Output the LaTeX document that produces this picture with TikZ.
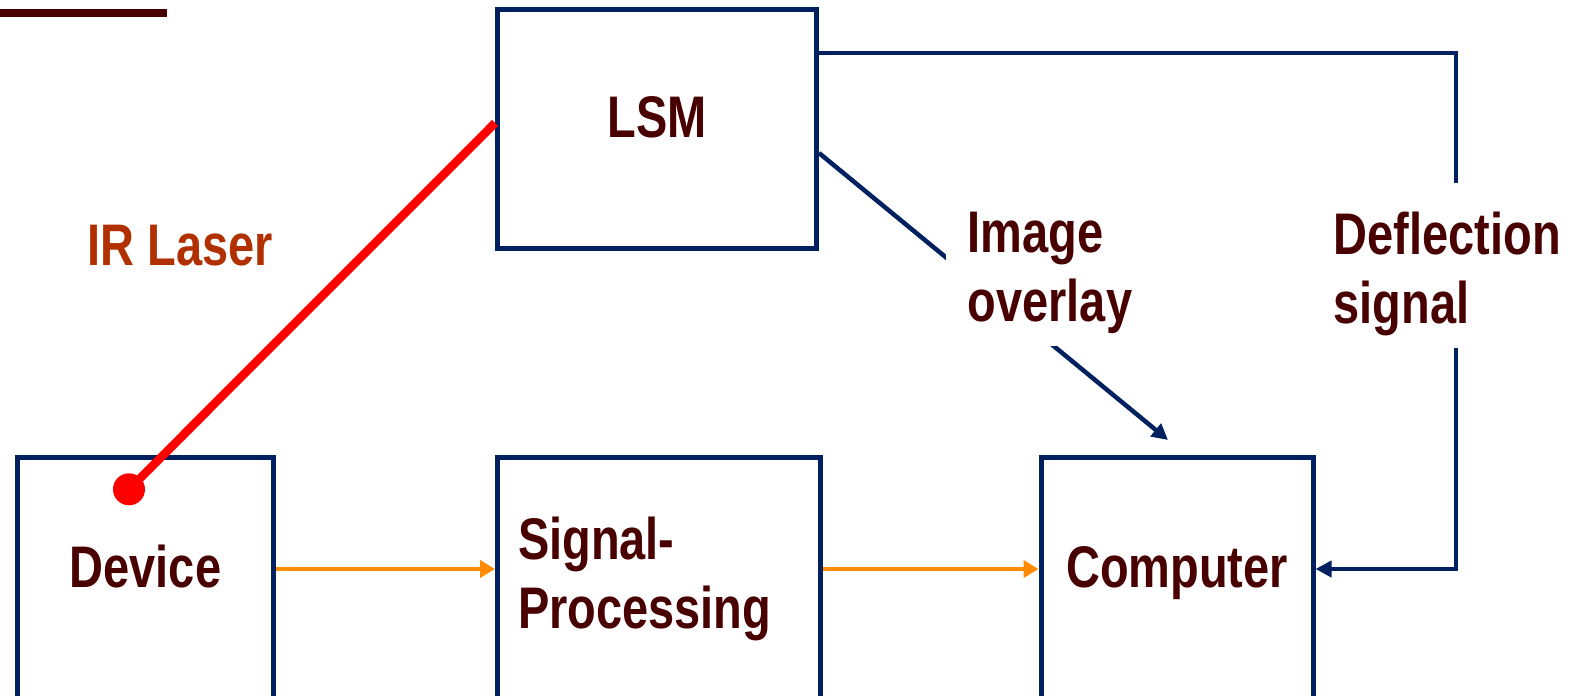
\documentclass[tikz,border=0pt]{standalone}
\usepackage{fontspec}
\newfontfamily\narrowsans{Liberation Sans}[FakeStretch=0.8]
\newcommand{\diagfont}{\narrowsans\bfseries\fontsize{16.7}{19.6}\selectfont}
\usetikzlibrary{arrows.meta}
\definecolor{boxblue}{RGB}{0,32,96}
\definecolor{labelred}{RGB}{72,0,0}
\definecolor{laserred}{RGB}{176,48,0}
\definecolor{sigorange}{RGB}{255,140,0}

\begin{document}
\begin{tikzpicture}[
    box/.style={draw=boxblue,line width=0.5mm,inner sep=0pt,font=\diagfont,text=labelred},
    oneline/.style={text height=0.72em,text depth=0.21em},
    lbl/.style={font=\diagfont,text=labelred},
    sig/.style={draw=boxblue,line width=0.45mm,-{Triangle[length=1.6mm,width=1.6mm]}},
    flow/.style={draw=sigorange,line width=0.4mm,-{Triangle[length=1.5mm,width=1.7mm]}},
    laser/.style={draw=red,line width=0.85mm}
]
    \useasboundingbox (0,0) rectangle (15.82,-6.96);

    % title underline, cut at the top
    \fill[labelred] (0,-0.09) rectangle (1.667,-0.167);

    \node (lsm) at (6.57,-1.29) [box,oneline,minimum width=3.19cm,minimum height=2.39cm] {LSM};

    \node (dev) at (1.455,-5.7875) [box,oneline,minimum width=2.56cm,minimum height=2.425cm] {Device};
    \node (sig) at (6.5875,-5.7875) [box,align=left,inner xsep=2.05mm,text width=2.815cm,minimum height=2.425cm] {Signal-\\Processing};
    \node (comp) at (11.77,-5.7875) [box,oneline,minimum width=2.72cm,minimum height=2.425cm] {Computer};

    \node (spot) at (1.29,-4.893) [circle,fill=red,minimum size=3.2mm,inner sep=0pt] {};
    \node (irl) at (1.80,-2.46) [lbl,text=laserred] {IR Laser};

    \coordinate (ovltip) at (11.68,-4.40);

    \draw[laser] (spot.center) -- ([yshift=0.6mm]lsm.west);

    \draw[flow] ([yshift=0.975mm]dev.east) -- ([yshift=0.975mm]sig.west);
    \draw[flow] ([yshift=0.975mm]sig.east) -- ([yshift=0.975mm]comp.west);

    \draw[sig] ([yshift=-2.4mm]lsm.east) -- (ovltip);
    \node (ovl) at (9.45,-3.467) [lbl,fill=white,align=left,anchor=south west,inner xsep=2.2mm,inner ysep=1.25mm] {Image\\overlay};

    \node (defl) at (13.33,-2.11) [lbl,align=left,anchor=north west,inner sep=0pt] {Deflection\\signal};
    \draw[sig,-] ([yshift=-4.6mm]lsm.north east) -| ([xshift=0.9mm,yshift=2.8mm]defl.north);
    \draw[sig] ([xshift=0.9mm,yshift=-1.2mm]defl.south) |- ([yshift=0.975mm]comp.east);
\end{tikzpicture}
\end{document}
